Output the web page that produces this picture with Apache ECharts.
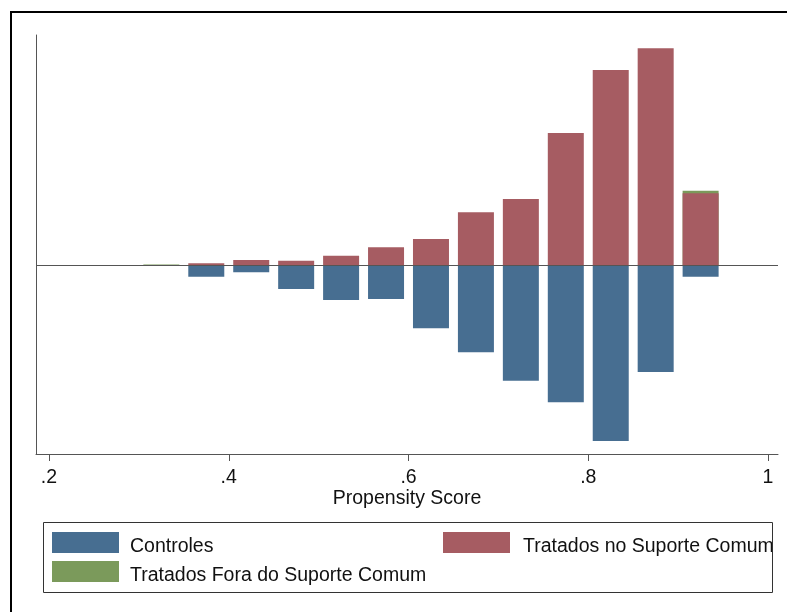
<!DOCTYPE html>
<html>
<head>
<meta charset="utf-8">
<script src="https://cdn.jsdelivr.net/npm/echarts@6/dist/echarts.min.js"></script>
<style>html,body{margin:0;padding:0;background:#fff}#c{width:787px;height:612px}</style>
</head>
<body>
<div id="c"></div>
<script>
// Bin centers (propensity score)
const binCenters = [0.325, 0.375, 0.425, 0.475, 0.525, 0.575, 0.625, 0.675, 0.725, 0.775, 0.825, 0.875, 0.925];
// Treated within common support (upward)
const treatedOn = [0, 0.17, 0.5, 0.43, 0.93, 1.77, 2.6, 5.27, 6.6, 13.2, 19.5, 21.67, 7.17];
// Treated outside common support (stacked above)
const treatedOff = [0.05, 0, 0, 0, 0, 0, 0, 0, 0, 0, 0, 0, 0.26];
// Controls (downward)
const controls = [0, -1.17, -0.73, -2.4, -3.5, -3.4, -6.33, -8.73, -11.57, -13.73, -17.6, -10.7, -1.17];
const tickValues = [0.2, 0.4, 0.6, 0.8, 1.0];
const tickLabels = ['.2', '.4', '.6', '.8', '1'];

const cBlue = '#476e91', cRed = '#a65c62', cGreen = '#7b9a5b';
const font = '"Liberation Sans", Arial, sans-serif';

const offData = binCenters.map((x, i) => [x, treatedOn[i] + treatedOff[i]]).filter((d, i) => treatedOff[i] > 0);
const onData = binCenters.map((x, i) => [x, treatedOn[i]]).filter((d, i) => treatedOn[i] > 0);
const ctrlData = binCenters.map((x, i) => [x, controls[i]]).filter((d, i) => controls[i] < 0);

function leg(name, left, top, padLeft) {
  return {left: left, top: top, padding: 0, itemWidth: 67, itemHeight: 21, icon: 'rect',
    data: [name],
    formatter: '{t|{name}}',
    textStyle: {fontSize: 19.5, color: '#111', fontFamily: font, padding: [0, 0, 0, padLeft],
      rich: {t: {fontSize: 19.5, color: '#111', fontFamily: font, lineHeight: 29, verticalAlign: 'bottom'}}}};
}

const chart = echarts.init(document.getElementById('c'), null, {renderer: 'canvas'});
chart.setOption({
  animation: false,
  backgroundColor: '#fff',
  grid: {left: 36, right: 9, top: 35, bottom: 158, containLabel: false},
  xAxis: {
    type: 'value', min: 0.18554, max: 1.0111,
    axisLine: {onZero: false, lineStyle: {color: '#555', width: 1}},
    axisTick: {show: true, customValues: tickValues, length: 7, lineStyle: {color: '#555'}},
    axisLabel: {customValues: tickValues, margin: 14, fontSize: 19.5, color: '#111', fontFamily: font,
      formatter: v => tickLabels[tickValues.findIndex(t => Math.abs(t - v) < 1e-9)] || ''},
    splitLine: {show: false},
    name: 'Propensity Score', nameLocation: 'middle', nameGap: 35, nameMoveOverlap: false,
    nameTextStyle: {fontSize: 19.5, color: '#111', fontFamily: font}
  },
  yAxis: {
    type: 'value', min: -18.9, max: 23,
    axisLine: {show: true, lineStyle: {color: '#555', width: 1}},
    axisTick: {show: false}, axisLabel: {show: false}, splitLine: {show: false}
  },
  legend: [
    leg('Controles', 52, 532, 6),
    leg('Tratados no Suporte Comum', 443, 532, 8),
    leg('Tratados Fora do Suporte Comum', 52, 561, 6)
  ],
  graphic: [
    {type: 'rect', shape: {x: 11, y: 12, width: 800, height: 620}, style: {fill: 'none', stroke: '#000', lineWidth: 2}, z: 100},
    {type: 'rect', shape: {x: 43.5, y: 522.5, width: 729, height: 70}, style: {fill: 'none', stroke: '#333', lineWidth: 1}, z: 100}
  ],
  series: [
    {name: 'Tratados Fora do Suporte Comum', type: 'bar', data: offData, barWidth: 36, barGap: '-100%',
     itemStyle: {color: cGreen}, z: 1},
    {name: 'Tratados no Suporte Comum', type: 'bar', data: onData, barWidth: 36, barGap: '-100%',
     itemStyle: {color: cRed}, z: 2},
    {name: 'Controles', type: 'bar', data: ctrlData, barWidth: 36, barGap: '-100%',
     itemStyle: {color: cBlue}, z: 2,
     markLine: {silent: true, symbol: 'none', label: {show: false},
       lineStyle: {color: '#555', width: 1, type: 'solid'}, data: [{yAxis: 0}]}}
  ]
});
</script>
</body>
</html>
